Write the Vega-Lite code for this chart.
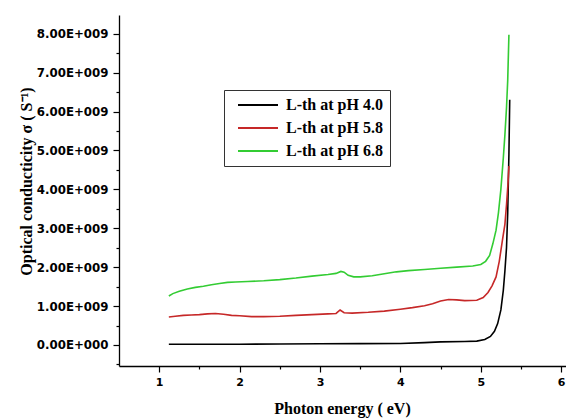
{
  "$schema": "https://vega.github.io/schema/vega-lite/v6.json",
  "width": 447,
  "height": 351,
  "autosize": {"type": "none"},
  "padding": {"left": 119, "top": 15, "right": 0, "bottom": 52},
  "config": {
    "view": {"stroke": null},
    "axis": {"grid": false, "domainColor": "#000", "domainWidth": 1.3, "tickColor": "#000", "tickWidth": 1.2, "labelColor": "#000", "titleColor": "#000"}
  },
  "datasets": {
    "curves": [
      {"s": "L-th at pH 4.0", "x": 1.12, "y": 0.02e9},
      {"s": "L-th at pH 4.0", "x": 1.5, "y": 0.02e9},
      {"s": "L-th at pH 4.0", "x": 2.0, "y": 0.02e9},
      {"s": "L-th at pH 4.0", "x": 2.5, "y": 0.025e9},
      {"s": "L-th at pH 4.0", "x": 3.0, "y": 0.03e9},
      {"s": "L-th at pH 4.0", "x": 3.5, "y": 0.035e9},
      {"s": "L-th at pH 4.0", "x": 4.0, "y": 0.04e9},
      {"s": "L-th at pH 4.0", "x": 4.3, "y": 0.06e9},
      {"s": "L-th at pH 4.0", "x": 4.5, "y": 0.08e9},
      {"s": "L-th at pH 4.0", "x": 4.8, "y": 0.09e9},
      {"s": "L-th at pH 4.0", "x": 4.95, "y": 0.1e9},
      {"s": "L-th at pH 4.0", "x": 5.05, "y": 0.14e9},
      {"s": "L-th at pH 4.0", "x": 5.12, "y": 0.22e9},
      {"s": "L-th at pH 4.0", "x": 5.17, "y": 0.35e9},
      {"s": "L-th at pH 4.0", "x": 5.21, "y": 0.55e9},
      {"s": "L-th at pH 4.0", "x": 5.25, "y": 0.9e9},
      {"s": "L-th at pH 4.0", "x": 5.28, "y": 1.4e9},
      {"s": "L-th at pH 4.0", "x": 5.3, "y": 1.9e9},
      {"s": "L-th at pH 4.0", "x": 5.32, "y": 2.5e9},
      {"s": "L-th at pH 4.0", "x": 5.335, "y": 3.4e9},
      {"s": "L-th at pH 4.0", "x": 5.35, "y": 4.9e9},
      {"s": "L-th at pH 4.0", "x": 5.36, "y": 6.3e9},
      {"s": "L-th at pH 5.8", "x": 1.12, "y": 0.72e9},
      {"s": "L-th at pH 5.8", "x": 1.2, "y": 0.74e9},
      {"s": "L-th at pH 5.8", "x": 1.3, "y": 0.76e9},
      {"s": "L-th at pH 5.8", "x": 1.4, "y": 0.77e9},
      {"s": "L-th at pH 5.8", "x": 1.5, "y": 0.78e9},
      {"s": "L-th at pH 5.8", "x": 1.6, "y": 0.8e9},
      {"s": "L-th at pH 5.8", "x": 1.7, "y": 0.81e9},
      {"s": "L-th at pH 5.8", "x": 1.8, "y": 0.79e9},
      {"s": "L-th at pH 5.8", "x": 1.9, "y": 0.76e9},
      {"s": "L-th at pH 5.8", "x": 2.0, "y": 0.75e9},
      {"s": "L-th at pH 5.8", "x": 2.15, "y": 0.73e9},
      {"s": "L-th at pH 5.8", "x": 2.3, "y": 0.73e9},
      {"s": "L-th at pH 5.8", "x": 2.5, "y": 0.74e9},
      {"s": "L-th at pH 5.8", "x": 2.7, "y": 0.76e9},
      {"s": "L-th at pH 5.8", "x": 2.9, "y": 0.78e9},
      {"s": "L-th at pH 5.8", "x": 3.1, "y": 0.8e9},
      {"s": "L-th at pH 5.8", "x": 3.2, "y": 0.81e9},
      {"s": "L-th at pH 5.8", "x": 3.25, "y": 0.9e9},
      {"s": "L-th at pH 5.8", "x": 3.3, "y": 0.83e9},
      {"s": "L-th at pH 5.8", "x": 3.4, "y": 0.82e9},
      {"s": "L-th at pH 5.8", "x": 3.6, "y": 0.84e9},
      {"s": "L-th at pH 5.8", "x": 3.8, "y": 0.87e9},
      {"s": "L-th at pH 5.8", "x": 4.0, "y": 0.92e9},
      {"s": "L-th at pH 5.8", "x": 4.15, "y": 0.96e9},
      {"s": "L-th at pH 5.8", "x": 4.3, "y": 1.01e9},
      {"s": "L-th at pH 5.8", "x": 4.4, "y": 1.06e9},
      {"s": "L-th at pH 5.8", "x": 4.5, "y": 1.13e9},
      {"s": "L-th at pH 5.8", "x": 4.6, "y": 1.17e9},
      {"s": "L-th at pH 5.8", "x": 4.7, "y": 1.16e9},
      {"s": "L-th at pH 5.8", "x": 4.8, "y": 1.14e9},
      {"s": "L-th at pH 5.8", "x": 4.95, "y": 1.15e9},
      {"s": "L-th at pH 5.8", "x": 5.03, "y": 1.22e9},
      {"s": "L-th at pH 5.8", "x": 5.09, "y": 1.35e9},
      {"s": "L-th at pH 5.8", "x": 5.14, "y": 1.52e9},
      {"s": "L-th at pH 5.8", "x": 5.19, "y": 1.75e9},
      {"s": "L-th at pH 5.8", "x": 5.23, "y": 2.15e9},
      {"s": "L-th at pH 5.8", "x": 5.27, "y": 2.7e9},
      {"s": "L-th at pH 5.8", "x": 5.3, "y": 3.1e9},
      {"s": "L-th at pH 5.8", "x": 5.32, "y": 3.6e9},
      {"s": "L-th at pH 5.8", "x": 5.34, "y": 4.2e9},
      {"s": "L-th at pH 5.8", "x": 5.35, "y": 4.6e9},
      {"s": "L-th at pH 6.8", "x": 1.12, "y": 1.26e9},
      {"s": "L-th at pH 6.8", "x": 1.17, "y": 1.32e9},
      {"s": "L-th at pH 6.8", "x": 1.25, "y": 1.38e9},
      {"s": "L-th at pH 6.8", "x": 1.35, "y": 1.44e9},
      {"s": "L-th at pH 6.8", "x": 1.45, "y": 1.48e9},
      {"s": "L-th at pH 6.8", "x": 1.55, "y": 1.51e9},
      {"s": "L-th at pH 6.8", "x": 1.65, "y": 1.55e9},
      {"s": "L-th at pH 6.8", "x": 1.75, "y": 1.58e9},
      {"s": "L-th at pH 6.8", "x": 1.85, "y": 1.61e9},
      {"s": "L-th at pH 6.8", "x": 1.95, "y": 1.62e9},
      {"s": "L-th at pH 6.8", "x": 2.1, "y": 1.63e9},
      {"s": "L-th at pH 6.8", "x": 2.3, "y": 1.65e9},
      {"s": "L-th at pH 6.8", "x": 2.5, "y": 1.68e9},
      {"s": "L-th at pH 6.8", "x": 2.7, "y": 1.72e9},
      {"s": "L-th at pH 6.8", "x": 2.9, "y": 1.77e9},
      {"s": "L-th at pH 6.8", "x": 3.1, "y": 1.81e9},
      {"s": "L-th at pH 6.8", "x": 3.2, "y": 1.84e9},
      {"s": "L-th at pH 6.8", "x": 3.26, "y": 1.89e9},
      {"s": "L-th at pH 6.8", "x": 3.3, "y": 1.87e9},
      {"s": "L-th at pH 6.8", "x": 3.35, "y": 1.79e9},
      {"s": "L-th at pH 6.8", "x": 3.42, "y": 1.75e9},
      {"s": "L-th at pH 6.8", "x": 3.5, "y": 1.75e9},
      {"s": "L-th at pH 6.8", "x": 3.65, "y": 1.78e9},
      {"s": "L-th at pH 6.8", "x": 3.8, "y": 1.83e9},
      {"s": "L-th at pH 6.8", "x": 3.95, "y": 1.88e9},
      {"s": "L-th at pH 6.8", "x": 4.1, "y": 1.91e9},
      {"s": "L-th at pH 6.8", "x": 4.3, "y": 1.94e9},
      {"s": "L-th at pH 6.8", "x": 4.5, "y": 1.97e9},
      {"s": "L-th at pH 6.8", "x": 4.7, "y": 2.0e9},
      {"s": "L-th at pH 6.8", "x": 4.9, "y": 2.03e9},
      {"s": "L-th at pH 6.8", "x": 5.0, "y": 2.07e9},
      {"s": "L-th at pH 6.8", "x": 5.06, "y": 2.15e9},
      {"s": "L-th at pH 6.8", "x": 5.11, "y": 2.3e9},
      {"s": "L-th at pH 6.8", "x": 5.15, "y": 2.6e9},
      {"s": "L-th at pH 6.8", "x": 5.19, "y": 2.95e9},
      {"s": "L-th at pH 6.8", "x": 5.22, "y": 3.4e9},
      {"s": "L-th at pH 6.8", "x": 5.25, "y": 4.0e9},
      {"s": "L-th at pH 6.8", "x": 5.28, "y": 4.8e9},
      {"s": "L-th at pH 6.8", "x": 5.3, "y": 5.4e9},
      {"s": "L-th at pH 6.8", "x": 5.32, "y": 6.1e9},
      {"s": "L-th at pH 6.8", "x": 5.335, "y": 6.8e9},
      {"s": "L-th at pH 6.8", "x": 5.35, "y": 7.97e9}
    ]
  },
  "data": {"name": "curves"},
  "mark": {"type": "line", "strokeWidth": 1.6},
  "encoding": {
    "x": {
      "field": "x",
      "type": "quantitative",
      "scale": {"domain": [0.5, 6.06], "nice": false, "zero": false},
      "axis": {
        "values": [1, 1.5, 2, 2.5, 3, 3.5, 4, 4.5, 5, 5.5, 6],
        "tickSize": {"condition": {"test": "datum.value % 1 !== 0", "value": 3}, "value": 6},
        "labelExpr": "datum.value % 1 === 0 ? format(datum.value, 'd') : ''",
        "labelFont": "DejaVu Sans",
        "labelFontWeight": "bold",
        "labelFontSize": 11,
        "labelPadding": 4,
        "labelOverlap": false,
        "title": "Photon energy ( eV)",
        "titleFont": "Liberation Serif",
        "titleFontWeight": "bold",
        "titleFontSize": 16,
        "titleX": 223,
        "titleY": 42,
        "titleBaseline": "middle"
      }
    },
    "y": {
      "field": "y",
      "type": "quantitative",
      "scale": {"domain": [-0.54e9, 8.48e9], "nice": false, "zero": false},
      "axis": {
        "values": [-0.5e9, 0, 0.5e9, 1e9, 1.5e9, 2e9, 2.5e9, 3e9, 3.5e9, 4e9, 4.5e9, 5e9, 5.5e9, 6e9, 6.5e9, 7e9, 7.5e9, 8e9],
        "tickSize": {"condition": {"test": "datum.value % 1e9 !== 0", "value": 3}, "value": 6},
        "labelExpr": "datum.value % 1e9 !== 0 ? '' : (datum.value === 0 ? '0.00E+000' : format(datum.value / 1e9, '.2f') + 'E+009')",
        "labelFont": "DejaVu Sans",
        "labelFontWeight": "bold",
        "labelFontSize": 11.8,
        "labelPadding": 5,
        "labelOverlap": false,
        "title": "Optical conducticity σ ( S⁻¹)",
        "titleFont": "Liberation Serif",
        "titleFontWeight": "bold",
        "titleFontSize": 16,
        "titleAngle": -90,
        "titleX": -93,
        "titleY": 166,
        "titleAlign": "center",
        "titleBaseline": "middle"
      }
    },
    "color": {
      "field": "s",
      "type": "nominal",
      "scale": {"domain": ["L-th at pH 4.0", "L-th at pH 5.8", "L-th at pH 6.8"], "range": ["#000000", "#c62828", "#33cc33"]},
      "legend": {
        "title": null,
        "orient": "none",
        "legendX": 105,
        "legendY": 75,
        "strokeColor": "#333333",
        "fillColor": "#ffffff",
        "padding": 7,
        "symbolType": "M-4,0H4",
        "symbolSize": 100,
        "symbolStrokeWidth": 2,
        "symbolOffset": 19,
        "labelOffset": 20,
        "labelFont": "Liberation Serif",
        "labelFontWeight": "bold",
        "labelFontSize": 16,
        "labelColor": "#000000",
        "labelLimit": 300,
        "rowPadding": 7
      }
    }
  }
}
